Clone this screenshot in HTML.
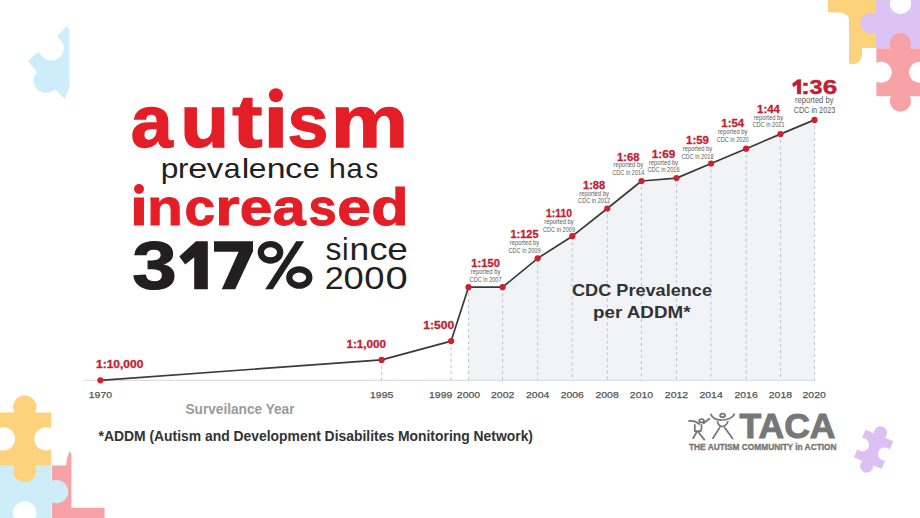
<!DOCTYPE html>
<html>
<head>
<meta charset="utf-8">
<style>
html,body{margin:0;padding:0;background:#fff;}
body{width:920px;height:518px;overflow:hidden;position:relative;font-family:"Liberation Sans",sans-serif;}
svg{position:absolute;left:0;top:0;display:block;}
</style>
</head>
<body>
<svg width="920" height="518" viewBox="0 0 920 518" font-family="Liberation Sans, sans-serif">
  <path d="M66.7,26 L69.5,30 L69.5,87 L64.5,99 L55,89 A11.5,11.5 0 1,1 37,72 L28,61 L38,52 L41,55 A12.5,12.5 0 0,0 63.4,44.6 L57.5,36 Z" fill="#cdeef8"/>
  <path d="M828,0 L876,0 L876,48 L862,48 L862,54 A9.5,9.5 0 0,1 849,63.5 L849,18 Q846,12.5 838,12.5 L828,12.2 Z" fill="#fdd27d"/>
  <path d="M876,0 L920,0 L920,48 L876,48 L876,32.5 A10.5,10.5 0 1,1 876,14.1 Z" fill="#dcc3f3"/>
  <circle cx="900.5" cy="3.5" r="10.6" fill="#fff"/>
  <path d="M0,0 L30.4,0 A22,22 0 1,1 69.6,0 L100,0 L100,30.4 A22,22 0 1,0 100,69.6 L100,100 L69.6,100 A22,22 0 1,1 30.4,100 L0,100 L0,69.6 A22,22 0 1,0 0,30.4 Z" fill="#f7a2a6" transform="translate(876.4,48.3) scale(0.48)"/>
  <path d="M51.8,465.6 L66,465.6 Q67,456 69.8,451.3 L71.4,454 L71.4,507.8 L104.5,507.8 L104.5,518 L51.8,518 Z" fill="#f7a2a6"/>
  <path d="M0,0 L30.4,0 A22,22 0 1,1 69.6,0 L100,0 L100,30.4 A22,22 0 1,0 100,69.6 L100,100 L69.6,100 A22,22 0 1,1 30.4,100 L0,100 L0,69.6 A22,22 0 1,0 0,30.4 Z" fill="#cdeef8" transform="translate(24.75,491.65) rotate(90) translate(-26.5,-26.5) scale(0.53)"/>
  <path d="M0,0 L30.4,0 A22,22 0 1,1 69.6,0 L100,0 L100,30.4 A22,22 0 1,0 100,69.6 L100,100 L69.6,100 A22,22 0 1,1 30.4,100 L0,100 L0,69.6 A22,22 0 1,0 0,30.4 Z" fill="#fdd27d" transform="translate(-1.8,412.4) scale(0.53)"/>
  <path d="M0,0 L30.4,0 A22,22 0 1,1 69.6,0 L100,0 L100,30.4 A22,22 0 1,0 100,69.6 L100,100 L69.6,100 A22,22 0 1,1 30.4,100 L0,100 L0,69.6 A22,22 0 1,0 0,30.4 Z" fill="#dcc0f3" transform="translate(873.6,449.4) rotate(22.5) translate(-15,-15) scale(0.30)"/>
    <g>
    <text x="130.79" y="147.3" font-size="74.5" font-weight="bold" fill="#e41e26" stroke="#e41e26" stroke-width="1.4" textLength="41.93" lengthAdjust="spacingAndGlyphs">a</text>
    <text x="180.24" y="147.3" font-size="74.5" font-weight="bold" fill="#e41e26" stroke="#e41e26" stroke-width="1.4" textLength="48.83" lengthAdjust="spacingAndGlyphs">u</text>
    <text x="232.19" y="147.3" font-size="74.5" font-weight="bold" fill="#e41e26" stroke="#e41e26" stroke-width="1.4" textLength="30.22" lengthAdjust="spacingAndGlyphs">t</text>
    <text x="263.30" y="147.3" font-size="74.5" font-weight="bold" fill="#e41e26" stroke="#e41e26" stroke-width="1.4" textLength="25.11" lengthAdjust="spacingAndGlyphs">ı</text>
    <text x="287.41" y="147.3" font-size="74.5" font-weight="bold" fill="#e41e26" stroke="#e41e26" stroke-width="1.4" textLength="40.90" lengthAdjust="spacingAndGlyphs">s</text>
    <text x="330.76" y="147.3" font-size="74.5" font-weight="bold" fill="#e41e26" stroke="#e41e26" stroke-width="1.4" textLength="77.44" lengthAdjust="spacingAndGlyphs">m</text>
    <circle cx="275.9" cy="95.3" r="7" fill="#e41e26"/>
  </g>
    <g>
    <text x="160.75" y="178.0" font-size="27.6" fill="#231f20" textLength="17.68" lengthAdjust="spacingAndGlyphs">p</text>
    <text x="178.03" y="178.0" font-size="27.6" fill="#231f20" textLength="10.39" lengthAdjust="spacingAndGlyphs">r</text>
    <text x="188.24" y="178.0" font-size="27.6" fill="#231f20" textLength="19.08" lengthAdjust="spacingAndGlyphs">e</text>
    <text x="206.89" y="178.0" font-size="27.6" fill="#231f20" textLength="16.42" lengthAdjust="spacingAndGlyphs">v</text>
    <text x="223.72" y="178.0" font-size="27.6" fill="#231f20" textLength="16.78" lengthAdjust="spacingAndGlyphs">a</text>
    <text x="241.80" y="178.0" font-size="27.6" fill="#231f20" textLength="7.58" lengthAdjust="spacingAndGlyphs">l</text>
    <text x="248.75" y="178.0" font-size="27.6" fill="#231f20" textLength="17.66" lengthAdjust="spacingAndGlyphs">e</text>
    <text x="266.65" y="178.0" font-size="27.6" fill="#231f20" textLength="18.85" lengthAdjust="spacingAndGlyphs">n</text>
    <text x="285.02" y="178.0" font-size="27.6" fill="#231f20" textLength="17.40" lengthAdjust="spacingAndGlyphs">c</text>
    <text x="302.80" y="178.0" font-size="27.6" fill="#231f20" textLength="17.07" lengthAdjust="spacingAndGlyphs">e</text>
    <text x="328.76" y="178.0" font-size="27.6" fill="#231f20" textLength="17.14" lengthAdjust="spacingAndGlyphs">h</text>
    <text x="346.56" y="178.0" font-size="27.6" fill="#231f20" textLength="16.24" lengthAdjust="spacingAndGlyphs">a</text>
    <text x="365.39" y="178.0" font-size="27.6" fill="#231f20" textLength="12.73" lengthAdjust="spacingAndGlyphs">s</text>
  </g>
    <g>
    <text x="129.96" y="225.2" font-size="52.5" font-weight="bold" fill="#e41e26" stroke="#e41e26" stroke-width="1.0" textLength="17.82" lengthAdjust="spacingAndGlyphs">ı</text>
    <text x="146.94" y="225.2" font-size="52.5" font-weight="bold" fill="#e41e26" stroke="#e41e26" stroke-width="1.0" textLength="35.80" lengthAdjust="spacingAndGlyphs">n</text>
    <text x="184.45" y="225.2" font-size="52.5" font-weight="bold" fill="#e41e26" stroke="#e41e26" stroke-width="1.0" textLength="30.56" lengthAdjust="spacingAndGlyphs">c</text>
    <text x="215.17" y="225.2" font-size="52.5" font-weight="bold" fill="#e41e26" stroke="#e41e26" stroke-width="1.0" textLength="24.38" lengthAdjust="spacingAndGlyphs">r</text>
    <text x="239.81" y="225.2" font-size="52.5" font-weight="bold" fill="#e41e26" stroke="#e41e26" stroke-width="1.0" textLength="32.59" lengthAdjust="spacingAndGlyphs">e</text>
    <text x="272.76" y="225.2" font-size="52.5" font-weight="bold" fill="#e41e26" stroke="#e41e26" stroke-width="1.0" textLength="32.96" lengthAdjust="spacingAndGlyphs">a</text>
    <text x="308.52" y="225.2" font-size="52.5" font-weight="bold" fill="#e41e26" stroke="#e41e26" stroke-width="1.0" textLength="28.16" lengthAdjust="spacingAndGlyphs">s</text>
    <text x="337.34" y="225.2" font-size="52.5" font-weight="bold" fill="#e41e26" stroke="#e41e26" stroke-width="1.0" textLength="33.63" lengthAdjust="spacingAndGlyphs">e</text>
    <text x="371.39" y="225.2" font-size="52.5" font-weight="bold" fill="#e41e26" stroke="#e41e26" stroke-width="1.0" textLength="37.34" lengthAdjust="spacingAndGlyphs">d</text>
    <circle cx="139" cy="189" r="5" fill="#e41e26"/>
  </g>
  <g fill="#231f20">
    <text x="132.3" y="289.3" font-size="68.5" font-weight="bold" stroke="#231f20" stroke-width="1.2" textLength="44.5" lengthAdjust="spacingAndGlyphs">3</text>
    <path d="M179.3,256.4 L196,241.2 L207.8,241.2 L207.8,289.2 L194.2,289.2 L194.2,257.2 L185.2,264.6 Z"/>
    <path d="M214,241.2 L253,241.2 L253,251.2 L235.2,289.2 L221.8,289.2 L238.6,251.8 L214,251.8 Z"/>
    <path d="M296.2,241.2 L304.2,241.2 L272.8,289.2 L265.2,289.2 Z"/>
    <ellipse cx="270.5" cy="252.3" rx="9.7" ry="8.2" fill="none" stroke="#231f20" stroke-width="6.3"/>
    <ellipse cx="299.3" cy="277.5" rx="10" ry="8.2" fill="none" stroke="#231f20" stroke-width="6.3"/>
  </g>
  <g>
    <text x="325.51" y="259.6" font-size="31.5" fill="#231f20" textLength="15.94" lengthAdjust="spacingAndGlyphs">s</text>
    <text x="342.02" y="259.6" font-size="31.5" fill="#231f20" textLength="6.57" lengthAdjust="spacingAndGlyphs">i</text>
    <text x="349.56" y="259.6" font-size="31.5" fill="#231f20" textLength="19.64" lengthAdjust="spacingAndGlyphs">n</text>
    <text x="369.46" y="259.6" font-size="31.5" fill="#231f20" textLength="18.09" lengthAdjust="spacingAndGlyphs">c</text>
    <text x="387.32" y="259.6" font-size="31.5" fill="#231f20" textLength="20.62" lengthAdjust="spacingAndGlyphs">e</text>
    <text x="324.68" y="288.7" font-size="31.0" fill="#231f20" textLength="19.04" lengthAdjust="spacingAndGlyphs">2</text>
    <text x="343.48" y="288.7" font-size="31.0" fill="#231f20" textLength="20.24" lengthAdjust="spacingAndGlyphs">0</text>
    <text x="364.38" y="288.7" font-size="31.0" fill="#231f20" textLength="20.24" lengthAdjust="spacingAndGlyphs">0</text>
    <text x="385.64" y="288.7" font-size="31.0" fill="#231f20" textLength="22.22" lengthAdjust="spacingAndGlyphs">0</text>
  </g>
  <polygon points="468.5,380.3 468.5,287.2 502.6,287.2 537.7,258.3 572.3,236.2 607.3,208.5 641.5,181.0 676.5,178.1 711.1,163.5 746.1,148.7 780.4,134.1 814.5,119.9 814.5,380.3" fill="#f2f3f6"/>
  <line x1="84" y1="380.3" x2="815" y2="380.3" stroke="#dedede" stroke-width="1.2"/>
  <g stroke="#c2c2c2" stroke-width="1" stroke-dasharray="3,3">
    <line x1="381.6" y1="359.9" x2="381.6" y2="380.3"/>
    <line x1="451.1" y1="341.1" x2="451.1" y2="380.3"/>
    <line x1="468.5" y1="287.2" x2="468.5" y2="380.3"/>
    <line x1="502.6" y1="287.2" x2="502.6" y2="380.3"/>
    <line x1="537.7" y1="258.3" x2="537.7" y2="380.3"/>
    <line x1="572.3" y1="236.2" x2="572.3" y2="380.3"/>
    <line x1="607.3" y1="208.5" x2="607.3" y2="380.3"/>
    <line x1="641.5" y1="181.0" x2="641.5" y2="380.3"/>
    <line x1="676.5" y1="178.1" x2="676.5" y2="380.3"/>
    <line x1="711.1" y1="163.5" x2="711.1" y2="380.3"/>
    <line x1="746.1" y1="148.7" x2="746.1" y2="380.3"/>
    <line x1="780.4" y1="134.1" x2="780.4" y2="380.3"/>
    <line x1="814.5" y1="119.9" x2="814.5" y2="380.3"/>
  </g>
  <polyline points="100.4,380.3 381.6,359.9 451.1,341.1 468.5,287.2 502.6,287.2 537.7,258.3 572.3,236.2 607.3,208.5 641.5,181.0 676.5,178.1 711.1,163.5 746.1,148.7 780.4,134.1 814.5,119.9" fill="none" stroke="#3a3a3a" stroke-width="1.7" stroke-linejoin="round"/>
  <g fill="#d21f2d">
    <circle cx="100.4" cy="380.3" r="3.1"/>
    <circle cx="381.6" cy="359.9" r="3.1"/>
    <circle cx="451.1" cy="341.1" r="3.1"/>
    <circle cx="468.5" cy="287.2" r="3.1"/>
    <circle cx="502.6" cy="287.2" r="3.1"/>
    <circle cx="537.7" cy="258.3" r="3.1"/>
    <circle cx="572.3" cy="236.2" r="3.1"/>
    <circle cx="607.3" cy="208.5" r="3.1"/>
    <circle cx="641.5" cy="181.0" r="3.1"/>
    <circle cx="676.5" cy="178.1" r="3.1"/>
    <circle cx="711.1" cy="163.5" r="3.1"/>
    <circle cx="746.1" cy="148.7" r="3.1"/>
    <circle cx="780.4" cy="134.1" r="3.1"/>
    <circle cx="814.5" cy="119.9" r="3.1"/>
  </g>
  <g font-size="9.6" fill="#555" stroke="#555" stroke-width="0.25" text-anchor="middle">
    <text x="100.4" y="398.0" textLength="23.3" lengthAdjust="spacingAndGlyphs">1970</text>
    <text x="381.7" y="398.0" textLength="23.3" lengthAdjust="spacingAndGlyphs">1995</text>
    <text x="440.7" y="398.0" textLength="23.3" lengthAdjust="spacingAndGlyphs">1999</text>
    <text x="468.5" y="398.0" textLength="23.3" lengthAdjust="spacingAndGlyphs">2000</text>
    <text x="502.7" y="398.0" textLength="23.3" lengthAdjust="spacingAndGlyphs">2002</text>
    <text x="537.7" y="398.0" textLength="23.3" lengthAdjust="spacingAndGlyphs">2004</text>
    <text x="572.3" y="398.0" textLength="23.3" lengthAdjust="spacingAndGlyphs">2006</text>
    <text x="607.1" y="398.0" textLength="23.3" lengthAdjust="spacingAndGlyphs">2008</text>
    <text x="641.5" y="398.0" textLength="23.3" lengthAdjust="spacingAndGlyphs">2010</text>
    <text x="676.5" y="398.0" textLength="23.3" lengthAdjust="spacingAndGlyphs">2012</text>
    <text x="711.1" y="398.0" textLength="23.3" lengthAdjust="spacingAndGlyphs">2014</text>
    <text x="746.1" y="398.0" textLength="23.3" lengthAdjust="spacingAndGlyphs">2016</text>
    <text x="780.4" y="398.0" textLength="23.3" lengthAdjust="spacingAndGlyphs">2018</text>
    <text x="814.2" y="398.0" textLength="23.3" lengthAdjust="spacingAndGlyphs">2020</text>
  </g>
  <g font-weight="bold" fill="#c41e35" stroke="#c41e35" stroke-width="0.3">
    <text x="96.06" y="368.1" font-size="10" textLength="47.28" lengthAdjust="spacingAndGlyphs">1:10,000</text>
    <text x="346.43" y="347.5" font-size="10" textLength="39.54" lengthAdjust="spacingAndGlyphs">1:1,000</text>
    <text x="423.38" y="329.1" font-size="10" textLength="30.85" lengthAdjust="spacingAndGlyphs">1:500</text>
    <text x="471.34" y="267.2" font-size="10" textLength="28.51" lengthAdjust="spacingAndGlyphs">1:150</text>
    <text x="510.51" y="238.3" font-size="10" textLength="27.98" lengthAdjust="spacingAndGlyphs">1:125</text>
    <text x="546.12" y="217.3" font-size="10" textLength="25.76" lengthAdjust="spacingAndGlyphs">1:110</text>
    <text x="582.97" y="188.9" font-size="10" textLength="22.26" lengthAdjust="spacingAndGlyphs">1:88</text>
    <text x="617.01" y="160.7" font-size="10" textLength="22.58" lengthAdjust="spacingAndGlyphs">1:68</text>
    <text x="651.73" y="158.0" font-size="10" textLength="23.53" lengthAdjust="spacingAndGlyphs">1:69</text>
    <text x="686.05" y="144.3" font-size="10" textLength="22.90" lengthAdjust="spacingAndGlyphs">1:59</text>
    <text x="721.31" y="127.4" font-size="10" textLength="22.79" lengthAdjust="spacingAndGlyphs">1:54</text>
    <text x="757.11" y="113.0" font-size="10" textLength="22.79" lengthAdjust="spacingAndGlyphs">1:44</text>
    <path d="M792.2,83.8 L797.8,79.6 L800.9,79.6 L800.9,94 L797.1,94 L797.1,84.6 L793.5,87 Z"/>
    <text x="800.90" y="93.9" font-size="20.5" fill="#c41e35" stroke="#c41e35" stroke-width="0.4" textLength="9.00" lengthAdjust="spacingAndGlyphs">:</text>
    <text x="809.46" y="93.9" font-size="20.5" fill="#c41e35" stroke="#c41e35" stroke-width="0.4" textLength="13.09" lengthAdjust="spacingAndGlyphs">3</text>
    <text x="822.85" y="93.9" font-size="20.5" fill="#c41e35" stroke="#c41e35" stroke-width="0.4" textLength="14.50" lengthAdjust="spacingAndGlyphs">6</text>
  </g>
  <g fill="#5a5a5a" font-size="6.3">
    <text x="470.80" y="273.90" textLength="29.6" lengthAdjust="spacingAndGlyphs">reported by</text>
    <text x="469.60" y="281.60" textLength="32" lengthAdjust="spacingAndGlyphs">CDC in 2007</text>
    <text x="509.70" y="245.00" textLength="29.6" lengthAdjust="spacingAndGlyphs">reported by</text>
    <text x="508.50" y="252.70" textLength="32" lengthAdjust="spacingAndGlyphs">CDC in 2009</text>
    <text x="544.20" y="224.00" textLength="29.6" lengthAdjust="spacingAndGlyphs">reported by</text>
    <text x="543.00" y="231.70" textLength="32" lengthAdjust="spacingAndGlyphs">CDC in 2009</text>
    <text x="579.30" y="195.60" textLength="29.6" lengthAdjust="spacingAndGlyphs">reported by</text>
    <text x="578.10" y="203.30" textLength="32" lengthAdjust="spacingAndGlyphs">CDC in 2012</text>
    <text x="613.50" y="167.40" textLength="29.6" lengthAdjust="spacingAndGlyphs">reported by</text>
    <text x="612.30" y="175.10" textLength="32" lengthAdjust="spacingAndGlyphs">CDC in 2014</text>
    <text x="648.70" y="164.70" textLength="29.6" lengthAdjust="spacingAndGlyphs">reported by</text>
    <text x="647.50" y="172.40" textLength="32" lengthAdjust="spacingAndGlyphs">CDC in 2016</text>
    <text x="682.70" y="151.00" textLength="29.6" lengthAdjust="spacingAndGlyphs">reported by</text>
    <text x="681.50" y="158.70" textLength="32" lengthAdjust="spacingAndGlyphs">CDC in 2018</text>
    <text x="717.90" y="134.10" textLength="29.6" lengthAdjust="spacingAndGlyphs">reported by</text>
    <text x="716.70" y="141.80" textLength="32" lengthAdjust="spacingAndGlyphs">CDC in 2020</text>
    <text x="753.70" y="119.70" textLength="29.6" lengthAdjust="spacingAndGlyphs">reported by</text>
    <text x="752.50" y="127.40" textLength="32" lengthAdjust="spacingAndGlyphs">CDC in 2021</text>
  </g>
  <g fill="#5a5a5a">
    <text x="795" y="103.2" font-size="8.3" textLength="38.5" lengthAdjust="spacingAndGlyphs">reported by</text>
    <text x="793.8" y="112.5" font-size="8.8" textLength="41.4" lengthAdjust="spacingAndGlyphs">CDC in 2023</text>
  </g>
  <text x="572" y="296.2" font-size="15.7" font-weight="bold" fill="#333" textLength="140" lengthAdjust="spacingAndGlyphs">CDC Prevalence</text>
  <text x="593" y="317.6" font-size="15.7" font-weight="bold" fill="#333" textLength="97.5" lengthAdjust="spacingAndGlyphs">per ADDM*</text>
  <text x="185.5" y="413.8" font-size="14" font-weight="bold" fill="#9a9a9a" textLength="109" lengthAdjust="spacingAndGlyphs">Surveilance Year</text>
  <text x="98.5" y="441.4" font-size="14.2" font-weight="bold" fill="#333" textLength="434.5" lengthAdjust="spacingAndGlyphs">*ADDM (Autism and Development Disabilites Monitoring Network)</text>
  <g stroke="#767676" stroke-width="1.75" fill="none" stroke-linecap="round" stroke-linejoin="round">
    <ellipse cx="722.6" cy="415.4" rx="2.5" ry="1.7"/>
    <path d="M710.9,414.3 Q713,420.3 722.2,420 Q731.6,419.8 734.3,414.2"/>
    <path d="M717.6,421.8 Q718.5,426.2 722,426.6 Q726.2,426 727.8,421.8"/>
    <path d="M719.6,427.6 L712.9,438.2 M724.6,427.6 L732.6,438.5"/>
    <ellipse cx="701.6" cy="420.8" rx="2.4" ry="1.7"/>
    <path d="M689,420.9 Q695,420.3 699.3,424"/>
    <path d="M703.6,423.3 L709.3,418.7"/>
    <path d="M694.8,424.8 L694.8,431 L700.8,431 Q702,427.5 701.4,424.8"/>
    <path d="M697,431.5 L693.1,438.2 M698.3,432 L704.3,439.6"/>
  </g>
  <text x="739.5" y="437.9" font-size="35" font-weight="bold" fill="#777" stroke="#777" stroke-width="1" textLength="96" lengthAdjust="spacingAndGlyphs">TACA</text>
  <text x="689" y="450" font-size="8.5" font-weight="bold" fill="#777" stroke="#777" stroke-width="0.35" textLength="147.5" lengthAdjust="spacingAndGlyphs">THE AUTISM COMMUNITY in ACTION</text>
</svg>
</body>
</html>
